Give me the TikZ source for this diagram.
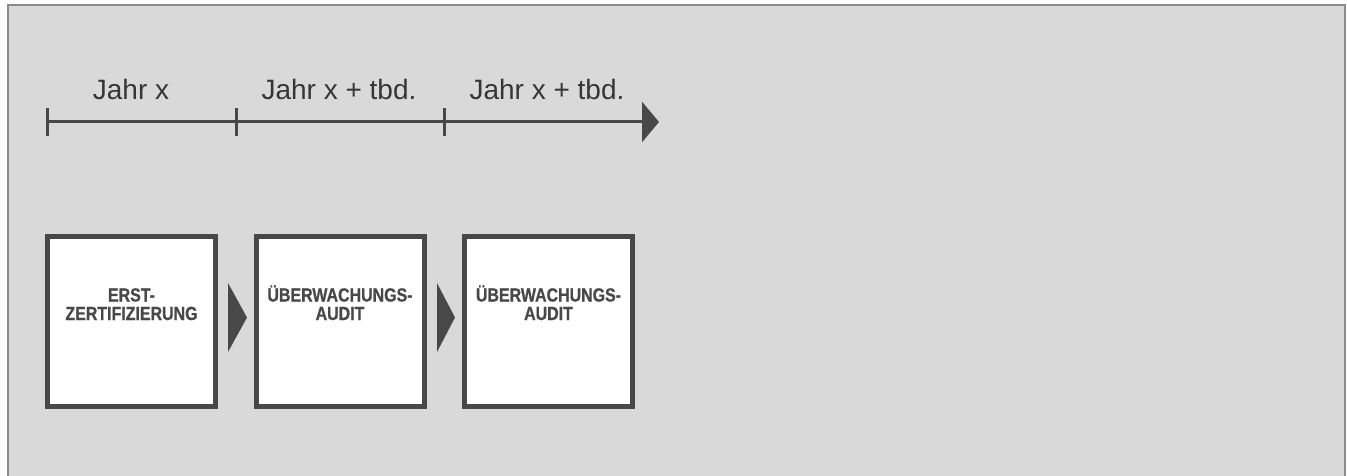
\documentclass[tikz,border=0pt]{standalone}
\usepackage{fontspec}
\setmainfont{Liberation Sans}
\newfontfamily\boxfont[FakeStretch=0.84,FakeBold=0.8]{Liberation Sans Bold}
\usetikzlibrary{arrows.meta}
\definecolor{bgc}{HTML}{D9D9D9}
\definecolor{framec}{HTML}{8A8A8A}
\definecolor{darkc}{HTML}{484848}
\definecolor{textc}{HTML}{363636}
\begin{document}
\begin{tikzpicture}[x=1pt,y=-1pt,
  stepbox/.style={draw=darkc,line width=5pt,fill=white,minimum width=168pt,minimum height=170pt,inner sep=0pt},
  boxlabel/.style={font=\boxfont\fontsize{19pt}{18.5pt}\selectfont,text=darkc,align=center,anchor=base,inner sep=0pt},
  yearlabel/.style={font=\fontsize{28pt}{28pt}\selectfont,text=textc,anchor=base},
  tick/.style={draw=darkc,line width=3pt},
  chev/.style={fill=darkc}]
\useasboundingbox (0,0) rectangle (1347,476);
\fill[bgc] (8,5) rectangle (1345,480);
\draw[framec,line width=1.5pt] (8,480) -- (8,5) -- (1345,5) -- (1345,480);
% timeline
\coordinate (t0) at (47,122);
\coordinate (t1) at (236,122);
\coordinate (t2) at (444,122);
\coordinate (tend) at (659,122);
\draw[darkc,line width=3pt,-{Triangle[length=17pt,width=40pt]}] (t0) -- (tend);
\foreach \c in {t0,t1,t2}{\draw[tick] ([yshift=-14pt]\c) -- ([yshift=14pt]\c);}
\node[yearlabel] (y1) at (131,100) {Jahr x};
\node[yearlabel] (y2) at (339,100) {Jahr x + tbd.};
\node[yearlabel] (y3) at (547,100) {Jahr x + tbd.};
% boxes
\node[stepbox] (b1) at (131.5,321.5) {};
\node[stepbox] (b2) at (340,321.5) {};
\node[stepbox] (b3) at (548.5,321.5) {};
\node[boxlabel] (l1) at (131.5,320) {ERST-\\ZERTIFIZIERUNG};
\node[boxlabel] (l2) at (340,320) {ÜBERWACHUNGS-\\AUDIT};
\node[boxlabel] (l3) at (548.5,320) {ÜBERWACHUNGS-\\AUDIT};
% chevrons
\fill[chev] (228,283) -- (247,317.5) -- (228,352) -- cycle;
\fill[chev] (437,283) -- (455,317.5) -- (437,352) -- cycle;
\end{tikzpicture}
\end{document}
